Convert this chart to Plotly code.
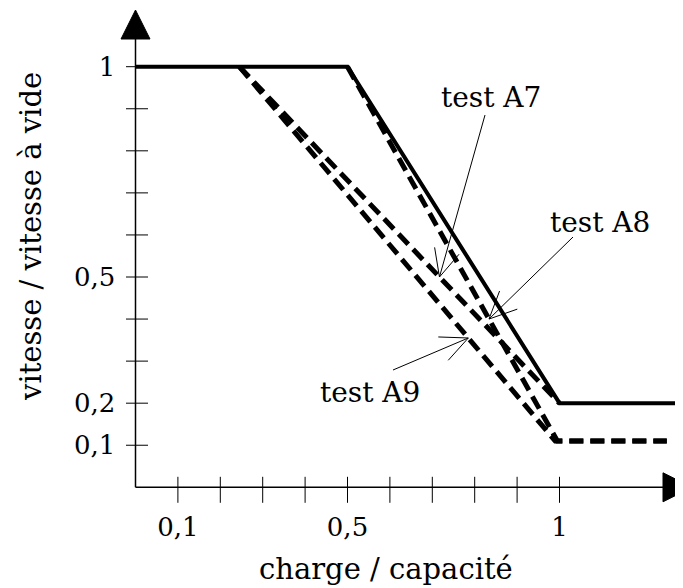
import math
import numpy as np
import plotly.graph_objects as go

# ---------------- data ----------------
theory_x = [0.0, 0.5, 1.0, 1.288]
theory_y = [1.0, 1.0, 0.2, 0.2]

a7_x = [0.245, 1.0]
a7_y = [1.0, 0.2]

a8_x = [0.5, 0.995, 1.253]
a8_y = [1.0, 0.11, 0.11]

a9_x = [0.245, 0.99, 1.253]
a9_y = [1.0, 0.11, 0.11]

x_minor_ticks = [0.1, 0.2, 0.3, 0.4, 0.5, 0.6, 0.7, 0.8, 0.9, 1.0]
x_label_vals = [0.1, 0.5, 1.0]
x_label_text = ["0,1", "0,5", "1"]

y_minor_ticks = [0.1, 0.2, 0.3, 0.4, 0.5, 0.6, 0.7, 0.8, 0.9, 1.0]
y_label_vals = [0.1, 0.2, 0.5, 1.0]
y_label_text = ["0,1", "0,2", "0,5", "1"]

test_names = ["test A7", "test A8", "test A9"]
arrow_tip_y = [0.5, 0.4, 0.355]

# ---------------- geometry ----------------
W, H = 683, 588
OFF = 8                       # page offset of the plot div
X0_PX, SX = 135.5 - OFF, 424.0   # figure px of x=0, px per unit
Y0_PX, SY = 487.3 - OFF, 420.6   # figure px of y=0, px per unit
x_range = [-X0_PX / SX, (W - X0_PX) / SX]
y_range = [-(H - Y0_PX) / SY, Y0_PX / SY]


def dx(px):
    # page px -> data x
    return (px - OFF - X0_PX) / SX


def dy(py):
    # page py -> data y
    return (Y0_PX - (py - OFF)) / SY


FONT = "DejaVu Serif"
fig = go.Figure()

dash = "14px,7px"
for xs, ys in [(a9_x, a9_y), (a8_x, a8_y), (a7_x, a7_y)]:
    fig.add_trace(go.Scatter(x=xs, y=ys, mode="lines",
                             line=dict(color="black", width=5, dash=dash),
                             hoverinfo="skip"))
fig.add_trace(go.Scatter(x=theory_x, y=theory_y, mode="lines",
                         line=dict(color="black", width=4), hoverinfo="skip"))

# axis lines
x_end = dx(663)
y_end = dy(39)
fig.add_trace(go.Scatter(x=[0, x_end, None, 0, 0], y=[0, 0, None, 0, y_end],
                         mode="lines", line=dict(color="black", width=1.5),
                         hoverinfo="skip"))
# arrow heads
hx = 14.5 / SY
fig.add_trace(go.Scatter(x=[x_end, x_end, dx(692), x_end],
                         y=[hx, -hx, 0, hx], mode="lines", fill="toself",
                         fillcolor="black", line=dict(color="black", width=1),
                         hoverinfo="skip"))
hy = 14.5 / SX
fig.add_trace(go.Scatter(x=[-hy, hy, 0, -hy],
                         y=[y_end, y_end, dy(10), y_end], mode="lines", fill="toself",
                         fillcolor="black", line=dict(color="black", width=1),
                         hoverinfo="skip"))

# tick marks crossing the axes
tx, ty = [], []
for v in x_minor_ticks:
    tx += [v, v, None]
    ty += [-15.5 / SY, 10.5 / SY, None]
for v in y_minor_ticks:
    tx += [-9.5 / SX, 12.5 / SX, None]
    ty += [v, v, None]
fig.add_trace(go.Scatter(x=tx, y=ty, mode="lines",
                         line=dict(color="black", width=1), hoverinfo="skip"))


def x_on(xs, ys, yv):
    # x on the first (sloped) segment of a series at height yv
    return float(np.interp(yv, [ys[1], ys[0]], [xs[1], xs[0]]))


series = [(a7_x, a7_y), (a8_x, a8_y), (a9_x, a9_y)]
text_px = [(491, 97), (600, 222), (370, 392)]
tail_px = [(485, 115), (573, 237), (393, 370)]

shapes = []
annotations = []
for name, (xs, ys), ty_v, tpx, tl in zip(test_names, series, arrow_tip_y, text_px, tail_px):
    tip_x = x_on(xs, ys, ty_v)
    tip_y = ty_v
    tail_x, tail_y = dx(tl[0]), dy(tl[1])
    shapes.append(dict(type="line", x0=tail_x, y0=tail_y, x1=tip_x, y1=tip_y,
                       xref="x", yref="y", line=dict(color="black", width=1)))
    # barbs (open arrow)
    vx = (tail_x - tip_x) * SX
    vy = -(tail_y - tip_y) * SY
    ang = math.atan2(vy, vx)
    for s in (-1, 1):
        a = ang + s * math.radians(25)
        bx = tip_x + 30 * math.cos(a) / SX
        by = tip_y - 30 * math.sin(a) / SY
        shapes.append(dict(type="line", x0=tip_x, y0=tip_y, x1=bx, y1=by,
                           xref="x", yref="y", line=dict(color="black", width=1)))
    annotations.append(dict(x=dx(tpx[0]), y=dy(tpx[1]), xref="x", yref="y",
                            text=name, showarrow=False, xanchor="center",
                            yanchor="middle",
                            font=dict(family=FONT, size=28, color="black")))

annotations.append(dict(x=dx(386), y=dy(569), xref="x", yref="y",
                        text="charge / capacité", showarrow=False,
                        xanchor="center", yanchor="middle",
                        font=dict(family=FONT, size=29, color="black")))
annotations.append(dict(x=dx(31), y=dy(237), xref="x", yref="y",
                        text="vitesse / vitesse à vide", showarrow=False,
                        textangle=-90, xanchor="center", yanchor="middle",
                        font=dict(family=FONT, size=29, color="black")))

fig.update_layout(
    width=W, height=H,
    margin=dict(l=0, r=0, t=0, b=0),
    paper_bgcolor="white", plot_bgcolor="white",
    showlegend=False,
    shapes=shapes, annotations=annotations,
    xaxis=dict(range=x_range, domain=[0, 1], anchor="free",
               position=(H - Y0_PX) / H,
               showgrid=False, zeroline=False, showline=False,
               tickvals=x_label_vals, ticktext=x_label_text,
               ticks="outside", ticklen=16, tickcolor="rgba(0,0,0,0)",
               tickfont=dict(family=FONT, size=26, color="black"),
               fixedrange=True),
    yaxis=dict(range=y_range, domain=[0, 1], anchor="free",
               position=X0_PX / W,
               showgrid=False, zeroline=False, showline=False,
               tickvals=y_label_vals, ticktext=y_label_text,
               ticks="outside", ticklen=15, tickcolor="rgba(0,0,0,0)",
               tickfont=dict(family=FONT, size=26, color="black"),
               fixedrange=True),
)

fig.write_html("out.html")
